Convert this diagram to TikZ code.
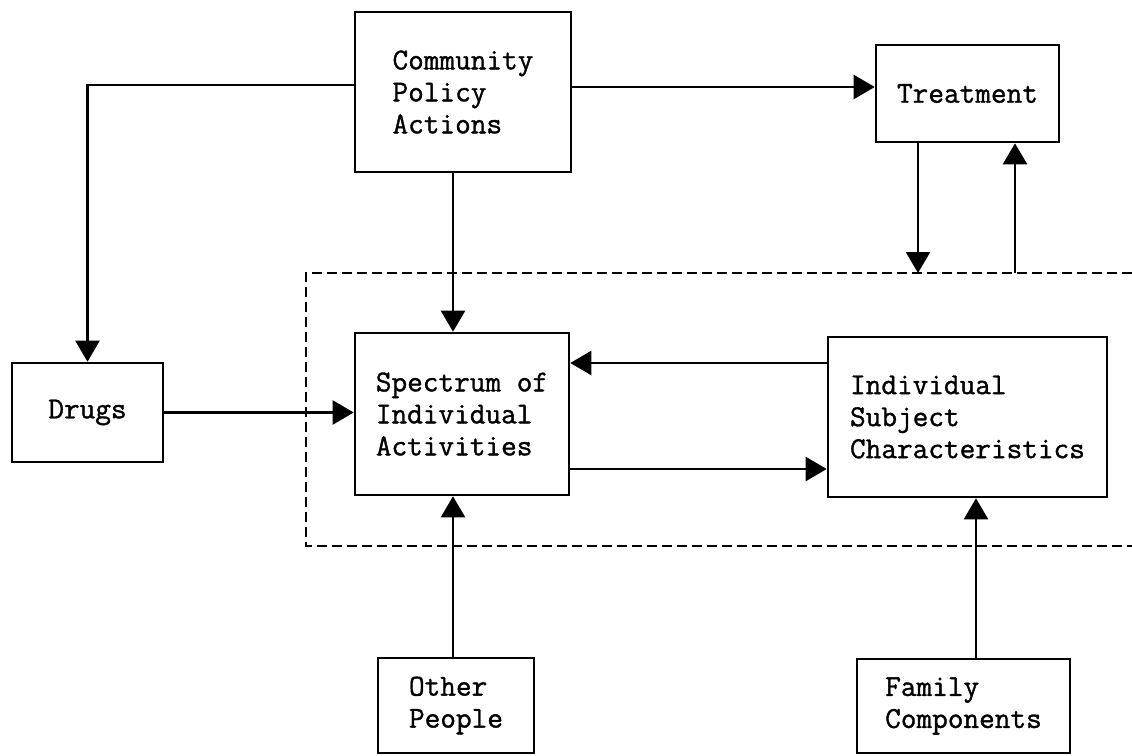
\documentclass[tikz,border=0pt]{standalone}
\usepackage{fontspec}
\newfontfamily\tw{Latin Modern Mono}[FakeBold=1.2]
\usetikzlibrary{arrows.meta}
\begin{document}
\begin{tikzpicture}[x=0.5pt,y=-0.5pt,
  box/.style={draw, line width=1.3pt, align=left, inner sep=0pt,
    font=\tw\fontsize{15.2pt}{16pt}\selectfont},
  arr/.style={line width=1.2pt, -{Triangle[width=12pt,length=10.5pt]}},
  dashbox/.style={line width=1.4pt, dash pattern=on 5pt off 2.5pt}]
\useasboundingbox (0,0) rectangle (1132,756);
% boxes
\node[box, minimum width=108pt, minimum height=80pt] (cpa) at (463,92) {Community\\Policy\\Actions};
\node[box, minimum width=91.5pt, minimum height=48.5pt] (trt) at (967.5,93.5) {Treatment};
\node[box, minimum width=75.5pt, minimum height=49.5pt] (drugs) at (87.5,412.5) {Drugs};
\node[box, minimum width=107pt, minimum height=81pt] (spec) at (462,414) {Spectrum of\\Individual\\Activities};
\node[box, minimum width=139.5pt, minimum height=80pt] (isc) at (967.5,417) {Individual\\Subject\\Characteristics};
\node[box, minimum width=78pt, minimum height=47.5pt] (other) at (456,705.5) {Other\\People};
\node[box, minimum width=106.5pt, minimum height=47pt] (family) at (963.5,706) {Family\\Components};
% dashed enclosure (open to the right)
\coordinate (dtr) at (1132,273);
\coordinate (dtl) at (306,273);
\coordinate (dbl) at (306,546);
\coordinate (dbr) at (1132,546);
\draw[dashbox] (dtr) -- (dtl) -- (dbl) -- (dbr);
% connectors
\coordinate (ly) at (85,85);
\draw[arr] (cpa.west |- ly) -| (drugs.north);
\coordinate (ry) at (0,87);
\draw[arr] (cpa.east |- ry) -- (trt.west |- ry);
\coordinate (vx) at (453,0);
\draw[arr] (cpa.south -| vx) -- (spec.north -| vx);
\draw[arr] (drugs.east) -- (spec.west |- drugs.east);
\coordinate (upy) at (0,363);
\draw[arr] (isc.west |- upy) -- (spec.east |- upy);
\coordinate (lowy) at (0,469);
\draw[arr] (spec.east |- lowy) -- (isc.west |- lowy);
\coordinate (tin) at (918,273);
\draw[arr] (trt.south -| tin) -- (tin);
\coordinate (tout) at (1015,273);
\draw[arr] (tout) -- (trt.south -| tout);
\draw[arr] (other.north -| vx) -- (spec.south -| vx);
\coordinate (fx) at (976,0);
\draw[arr] (family.north -| fx) -- (isc.south -| fx);
\end{tikzpicture}
\end{document}
